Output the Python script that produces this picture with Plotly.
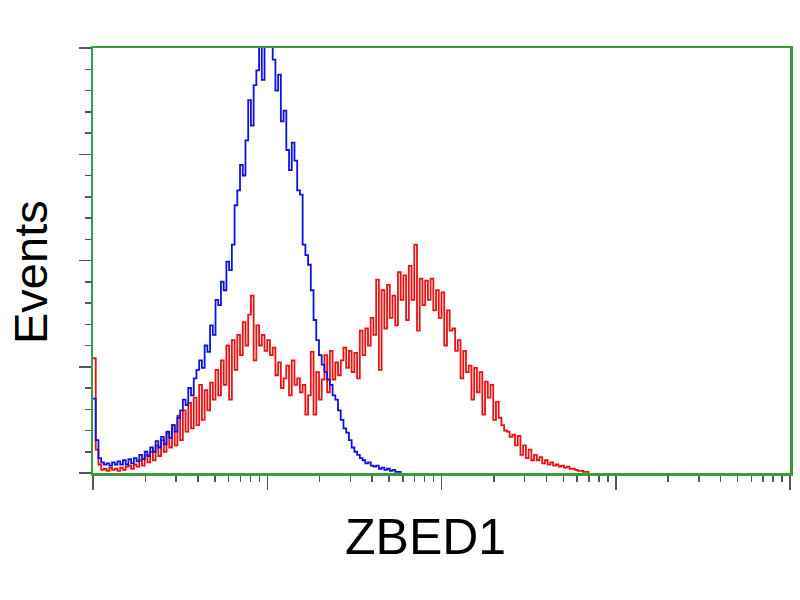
import plotly.graph_objects as go

# Histogram counts per channel (256 log channels across 4 decades)
blue_counts = [70, 31, 14, 10, 8, 9, 7, 10, 8, 11, 8, 12, 8, 13, 9, 14, 11, 17, 13, 20,
               16, 24, 20, 30, 24, 34, 27, 39, 33, 45, 39, 52, 59, 69, 64, 80, 73, 89, 97, 106,
               99, 120, 114, 139, 130, 163, 158, 180, 172, 199, 191, 215, 252, 266, 290, 280, 313, 351, 327, 365,
               379, 420, 370, 420, 430, 410, 389, 360, 375, 331, 341, 304, 285, 311, 294, 266, 262, 215, 205, 196,
               172, 144, 125, 111, 102, 95, 88, 83, 73, 69, 59, 50, 42, 38, 31, 24, 20, 17, 14, 12,
               9, 10, 7, 6, 7, 4, 5, 3, 4, 2, 3, 1, 1, 0]

red_counts = [108, 22, 8, 3, 4, 2, 5, 3, 4, 2, 5, 3, 6, 7, 4, 8, 6, 12, 7, 17,
              10, 20, 12, 26, 16, 31, 20, 38, 24, 45, 26, 54, 31, 59, 39, 66, 42, 71, 45, 83,
              50, 78, 59, 85, 69, 97, 73, 106, 83, 120, 69, 125, 97, 130, 111, 142, 120, 149, 167, 106,
              139, 120, 130, 115, 125, 111, 118, 92, 104, 80, 89, 101, 73, 106, 83, 89, 76, 83, 55, 73,
              114, 55, 95, 69, 88, 111, 76, 115, 88, 104, 92, 106, 118, 99, 115, 95, 113, 89, 134, 111,
              136, 120, 146, 130, 182, 97, 172, 136, 177, 146, 167, 139, 189, 163, 186, 144, 195, 163, 215, 134,
              183, 158, 181, 163, 183, 153, 172, 146, 170, 120, 153, 134, 136, 115, 125, 89, 115, 95, 101, 69,
              99, 76, 95, 55, 86, 71, 83, 50, 67, 52, 45, 40, 39, 34, 36, 26, 35, 17, 26, 14,
              22, 12, 17, 12, 15, 9, 12, 8, 10, 7, 8, 6, 7, 5, 6, 4, 4, 3, 2, 2,
              1, 1, 0]

n_channels = 256
decades = 4
x_major = [1, 10, 100, 1000, 10000]
x_minor = [m * d for d in [1, 10, 100, 1000] for m in range(2, 10)]
y_major = [0, 100, 200, 300, 400]
y_minor = [v for v in range(0, 401, 20) if v % 100 != 0]

x_label = "ZBED1"
y_label = "Events"


def chan_to_x(n):
    return [10 ** (i * decades / n_channels) for i in range(n)]


green = "#3c9a3c"
tick_col = "#555555"

fig = go.Figure()
fig.add_trace(go.Scatter(x=chan_to_x(len(red_counts)), y=red_counts, mode="lines",
                         line=dict(color="#e81212", width=1.8, shape="hv"),
                         showlegend=False, hoverinfo="skip"))
fig.add_trace(go.Scatter(x=chan_to_x(len(blue_counts)), y=blue_counts, mode="lines",
                         line=dict(color="#1212e0", width=1.8, shape="hv"),
                         showlegend=False, hoverinfo="skip"))

fig.update_layout(
    width=800, height=600,
    margin=dict(l=93, r=10, t=48, b=127, autoexpand=False),
    paper_bgcolor="white", plot_bgcolor="white",
    font=dict(family="Liberation Sans, Arial, sans-serif", color="black"),
    xaxis=dict(type="log", range=[0, 4], showgrid=False, zeroline=False, automargin=False,
               showline=True, linecolor=green, linewidth=2.5, mirror=True,
               tickmode="array", tickvals=x_major, ticks="outside", ticklen=14,
               tickwidth=1.5, tickcolor=tick_col, showticklabels=False,
               minor=dict(tickmode="array", tickvals=x_minor, ticks="outside",
                          ticklen=6, tickwidth=1.5, tickcolor=tick_col)),
    yaxis=dict(range=[0, 400], showgrid=False, zeroline=False, automargin=False,
               showline=True, linecolor=green, linewidth=2.5, mirror=True,
               tickmode="array", tickvals=y_major, ticks="outside", ticklen=12,
               tickwidth=1.5, tickcolor=tick_col, showticklabels=False,
               minor=dict(tickmode="array", tickvals=y_minor, ticks="outside",
                          ticklen=6, tickwidth=1.5, tickcolor=tick_col)),
    annotations=[
        dict(text=x_label, xref="paper", yref="paper", x=(425 - 93) / 697, y=0,
             yshift=-64, xanchor="center", yanchor="middle", showarrow=False,
             font=dict(size=50, color="black")),
        dict(text=y_label, xref="paper", yref="paper", x=0, y=(473 - 272) / 425,
             xshift=-63, xanchor="center", yanchor="middle", textangle=-90,
             showarrow=False, font=dict(size=47, color="black")),
    ],
)

fig.write_html("out.html",
               config={"displayModeBar": False, "staticPlot": True},
               post_script="document.body.style.margin='0';document.body.style.overflow='hidden';")
